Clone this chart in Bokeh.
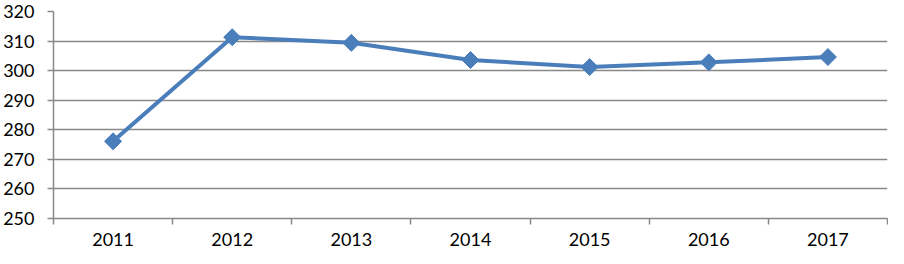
import math
from bokeh.plotting import figure
from bokeh.models import FixedTicker, Range1d, ColumnDataSource
from bokeh.embed import file_html
from bokeh.resources import INLINE

categories = ["2011", "2012", "2013", "2014", "2015", "2016", "2017"]
values = [276.1, 311.3, 309.4, 303.6, 301.2, 302.8, 304.6]
y_ticks = [250, 260, 270, 280, 290, 300, 310, 320]

xs = [i + 0.5 for i in range(len(categories))]
src = ColumnDataSource(dict(x=xs, y=values))

p = figure(width=888, height=248, output_backend="svg", toolbar_location=None,
           x_range=Range1d(0, len(categories)), y_range=Range1d(250, 320),
           min_border_left=0, min_border_right=1, min_border_top=11, min_border_bottom=0)
p.outline_line_color = None
p.background_fill_color = "white"

line_color = "#4a7ebb"
p.line("x", "y", source=src, line_color=line_color, line_width=4)
p.scatter("x", "y", source=src, marker="square", size=12, angle=math.pi / 4,
          fill_color=line_color, line_color=line_color)

grid_color = "#888888"
p.xgrid.visible = False
p.ygrid.ticker = FixedTicker(ticks=y_ticks)
p.ygrid.grid_line_color = grid_color
p.ygrid.grid_line_width = 1.5

xa = p.xaxis[0]
xa.ticker = FixedTicker(ticks=xs, minor_ticks=list(range(len(categories) + 1)))
xa.major_label_overrides = {x: c for x, c in zip(xs, categories)}
xa.major_tick_line_color = None
xa.major_tick_out = 0
xa.major_tick_in = 0
xa.minor_tick_line_color = grid_color
xa.minor_tick_line_width = 1.5
xa.minor_tick_out = 6
xa.minor_tick_in = 0
xa.axis_line_color = grid_color
xa.axis_line_width = 1.5
xa.major_label_standoff = 8

ya = p.yaxis[0]
ya.ticker = FixedTicker(ticks=y_ticks)
ya.axis_line_color = grid_color
ya.axis_line_width = 1.5
ya.major_tick_line_color = grid_color
ya.major_tick_line_width = 1.5
ya.major_tick_out = 6
ya.major_tick_in = 0
ya.minor_tick_line_color = None
ya.major_label_standoff = 13

for ax in (xa, ya):
    ax.major_label_text_font = "Lato"
    ax.major_label_text_font_size = "18px"
    ax.major_label_text_color = "#000000"

open("out.html", "w").write(file_html(p, INLINE))
